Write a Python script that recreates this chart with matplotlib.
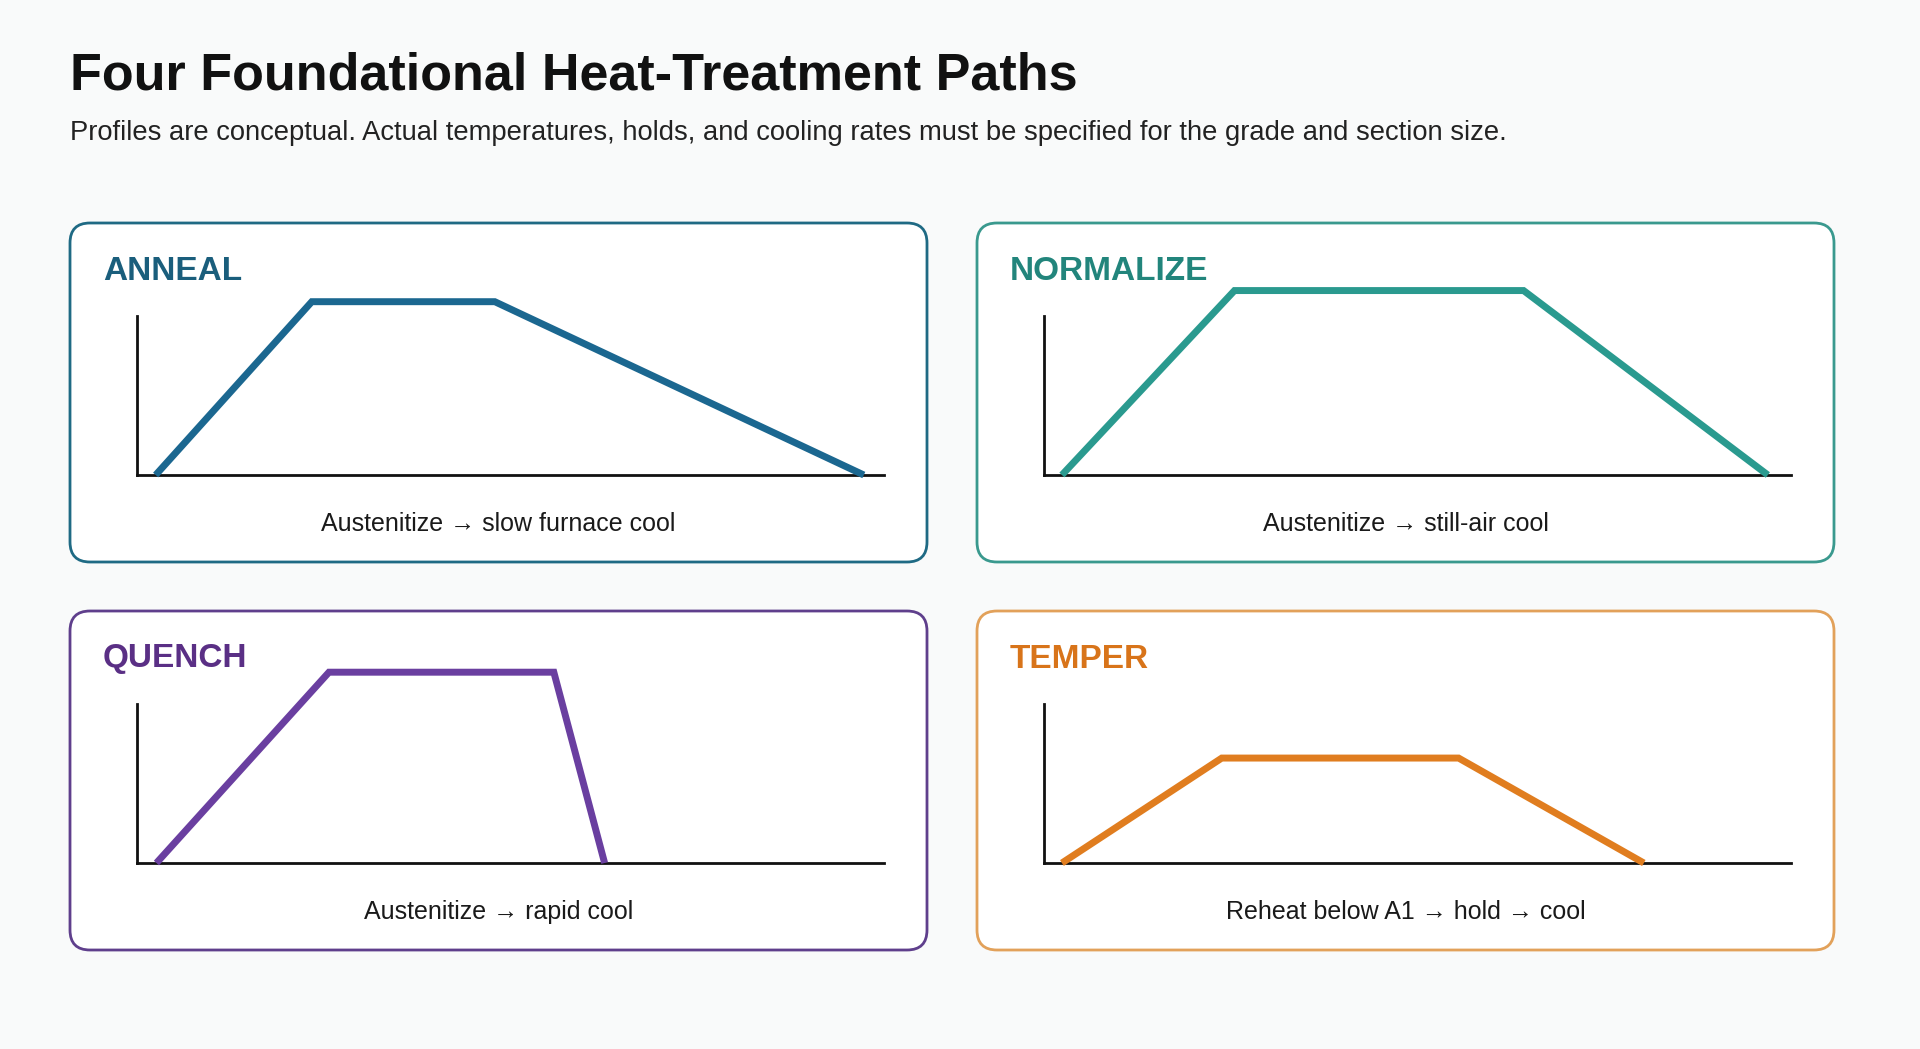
import matplotlib
matplotlib.use("Agg")
import matplotlib.pyplot as plt
from matplotlib.patches import FancyBboxPatch

# ---- data (conceptual temperature-time profiles, axis units 0..100) ----
panel_names = ["ANNEAL", "NORMALIZE", "QUENCH", "TEMPER"]
captions = [
    "Austenitize \u2192 slow furnace cool",
    "Austenitize \u2192 still-air cool",
    "Austenitize \u2192 rapid cool",
    "Reheat below A1 \u2192 hold \u2192 cool",
]
anneal_time = [2.5, 23.4, 47.9, 97.3]
anneal_temp = [0, 109, 109, 0]
normalize_time = [2.4, 25.5, 64.2, 96.9]
normalize_temp = [0, 116, 116, 0]
quench_time = [2.6, 25.7, 55.8, 62.6]
quench_temp = [0, 120, 120, 0]
temper_time = [2.4, 23.8, 55.5, 80.3]
temper_temp = [0, 66, 66, 0]

profiles = [(anneal_time, anneal_temp), (normalize_time, normalize_temp),
            (quench_time, quench_temp), (temper_time, temper_temp)]
line_colors = ["#1b6790", "#2a9a8f", "#6a3fa0", "#e07d1f"]
label_colors = ["#1a5e7c", "#22857c", "#5a2f85", "#d8741a"]
border_colors = ["#1f6a84", "#3a998e", "#5f3f8c", "#e2a15a"]

W, H = 1920, 1049
fig = plt.figure(figsize=(W / 100, H / 100), dpi=100)
fig.patch.set_facecolor("#f9fafa")

bg = fig.add_axes([0, 0, 1, 1])
bg.set_xlim(0, W)
bg.set_ylim(H, 0)
bg.axis("off")

font = "Liberation Sans"
bg.text(70, 76, "Four Foundational Heat-Treatment Paths", fontsize=37.5,
        fontweight="bold", family=font, color="#111111", va="center", ha="left")
bg.text(70, 133, "Profiles are conceptual. Actual temperatures, holds, and cooling rates "
        "must be specified for the grade and section size.",
        fontsize=19.7, family=font, color="#222222", va="center", ha="left")

# panel geometry in pixels
panel_x = [70, 977, 70, 977]
panel_y = [223, 223, 611, 611]
pw, ph = 857, 339

for i in range(4):
    x0, y0 = panel_x[i], panel_y[i]
    box = FancyBboxPatch((x0, y0), pw, ph, boxstyle="round,pad=0,rounding_size=20",
                         facecolor="white", edgecolor=border_colors[i], linewidth=2)
    bg.add_patch(box)
    bg.text(x0 + 33, y0 + 48, panel_names[i], fontsize=24, fontweight="bold",
            family=font, color=label_colors[i], va="center", ha="left")
    bg.text(x0 + pw / 2, y0 + 301, captions[i], fontsize=18, family=font,
            color="#1a1a1a", va="center", ha="center")

    # curve axes: y-axis at x0+67, spans from y0+93 to y0+252
    left = x0 + 67
    bottom = y0 + 252
    ax = fig.add_axes([left / W, 1 - bottom / H, 747 / W, 159 / H])
    ax.set_xlim(0, 100)
    ax.set_ylim(0, 100)
    ax.patch.set_alpha(0)
    for s in ["top", "right"]:
        ax.spines[s].set_visible(False)
    for s in ["left", "bottom"]:
        ax.spines[s].set_linewidth(2)
        ax.spines[s].set_color("#111111")
    ax.set_xticks([])
    ax.set_yticks([])
    t, temp = profiles[i]
    ax.plot(t, temp, color=line_colors[i], linewidth=5, clip_on=False, zorder=3,
            solid_joinstyle="miter", solid_capstyle="butt")

fig.savefig("out.png", dpi=100, facecolor=fig.get_facecolor())
